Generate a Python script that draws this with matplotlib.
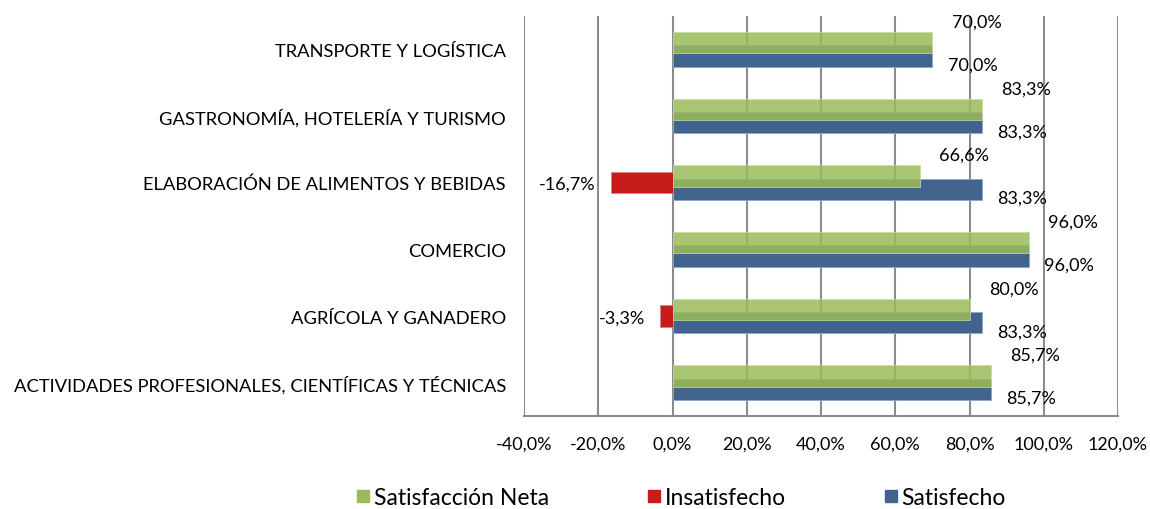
import numpy as np
import matplotlib
matplotlib.use("Agg")
import matplotlib.pyplot as plt
from matplotlib.ticker import FuncFormatter
from matplotlib.lines import Line2D

# data (top to bottom as shown)
categories = [
    "TRANSPORTE Y LOGÍSTICA",
    "GASTRONOMÍA, HOTELERÍA Y TURISMO",
    "ELABORACIÓN DE ALIMENTOS Y BEBIDAS",
    "COMERCIO",
    "AGRÍCOLA Y GANADERO",
    "ACTIVIDADES PROFESIONALES, CIENTÍFICAS Y TÉCNICAS",
]
satisfecho = [70.0, 83.3, 83.3, 96.0, 83.3, 85.7]
insatisfecho = [0.0, 0.0, -16.7, 0.0, -3.3, 0.0]
satisfaccion_neta = [70.0, 83.3, 66.6, 96.0, 80.0, 85.7]
x_ticks = [-40, -20, 0, 20, 40, 60, 80, 100, 120]

GREEN = "#9bbb59"
RED = "#c81b1b"
BLUE = "#41648f"
GRID = "#8c8c8c"
FONT = "Lato"


def pct(v):
    return f"{v:.1f}%".replace(".", ",")


def main():
    plt.rcParams["font.family"] = [FONT, "DejaVu Sans"]
    fig = plt.figure(figsize=(11.5, 5.1), dpi=100)
    ax = fig.add_axes([524 / 1150, 93 / 510, 594 / 1150, 400 / 510])

    y = np.arange(len(categories))
    h = 0.32
    off = 0.1

    ax.barh(y + off, satisfecho, height=h, color=BLUE, edgecolor="#8fa6c4", linewidth=0.6, zorder=2)
    ax.barh(y, insatisfecho, height=h, color=RED, edgecolor="#e08080", linewidth=0.6, zorder=3)
    ax.barh(y - off, satisfaccion_neta, height=h, color=GREEN, alpha=0.85,
            edgecolor="#c8dca4", linewidth=0.6, zorder=4)

    # data labels
    for i in range(len(categories)):
        ax.annotate(pct(satisfaccion_neta[i]), (satisfaccion_neta[i], y[i]),
                    xytext=(14, 20), textcoords="offset points",
                    ha="left", va="center", fontsize=13, zorder=5)
        ax.annotate(pct(satisfecho[i]), (satisfecho[i], y[i]),
                    xytext=(11, -11), textcoords="offset points",
                    ha="left", va="center", fontsize=13, zorder=5)
        if insatisfecho[i] != 0:
            ax.annotate(pct(insatisfecho[i]), (insatisfecho[i], y[i]),
                        xytext=(-11, -1), textcoords="offset points",
                        ha="right", va="center", fontsize=13, zorder=5)

    ax.set_xlim(-40, 120)
    ax.set_ylim(len(categories) - 0.5, -0.5)
    ax.set_xticks(x_ticks)
    ax.xaxis.set_major_formatter(FuncFormatter(lambda v, p: pct(v)))
    ax.set_yticks(y)
    ax.set_yticklabels(categories)
    ax.tick_params(axis="y", length=0, pad=13, labelsize=13.2)
    ax.tick_params(axis="x", length=0, pad=14, labelsize=13)

    ax.grid(axis="x", color=GRID, linewidth=1.5, zorder=0)
    ax.set_axisbelow(True)
    for s in ["top", "left", "right"]:
        ax.spines[s].set_visible(False)
    ax.spines["bottom"].set_color(GRID)
    ax.spines["bottom"].set_linewidth(1.5)

    handles = [
        Line2D([], [], marker="s", linestyle="", markersize=9, color=GREEN),
        Line2D([], [], marker="s", linestyle="", markersize=9, color=RED),
        Line2D([], [], marker="s", linestyle="", markersize=9, color=BLUE),
    ]
    fig.legend(handles, ["Satisfacción Neta", "Insatisfecho", "Satisfecho"],
               loc="center", bbox_to_anchor=(680 / 1150, 10 / 510 + 0.002),
               ncol=3, frameon=False, fontsize=16.5, handletextpad=0.05,
               columnspacing=4.2, handlelength=0.8)

    fig.savefig("out.png", dpi=100)
    plt.close(fig)


if __name__ == "__main__":
    main()
